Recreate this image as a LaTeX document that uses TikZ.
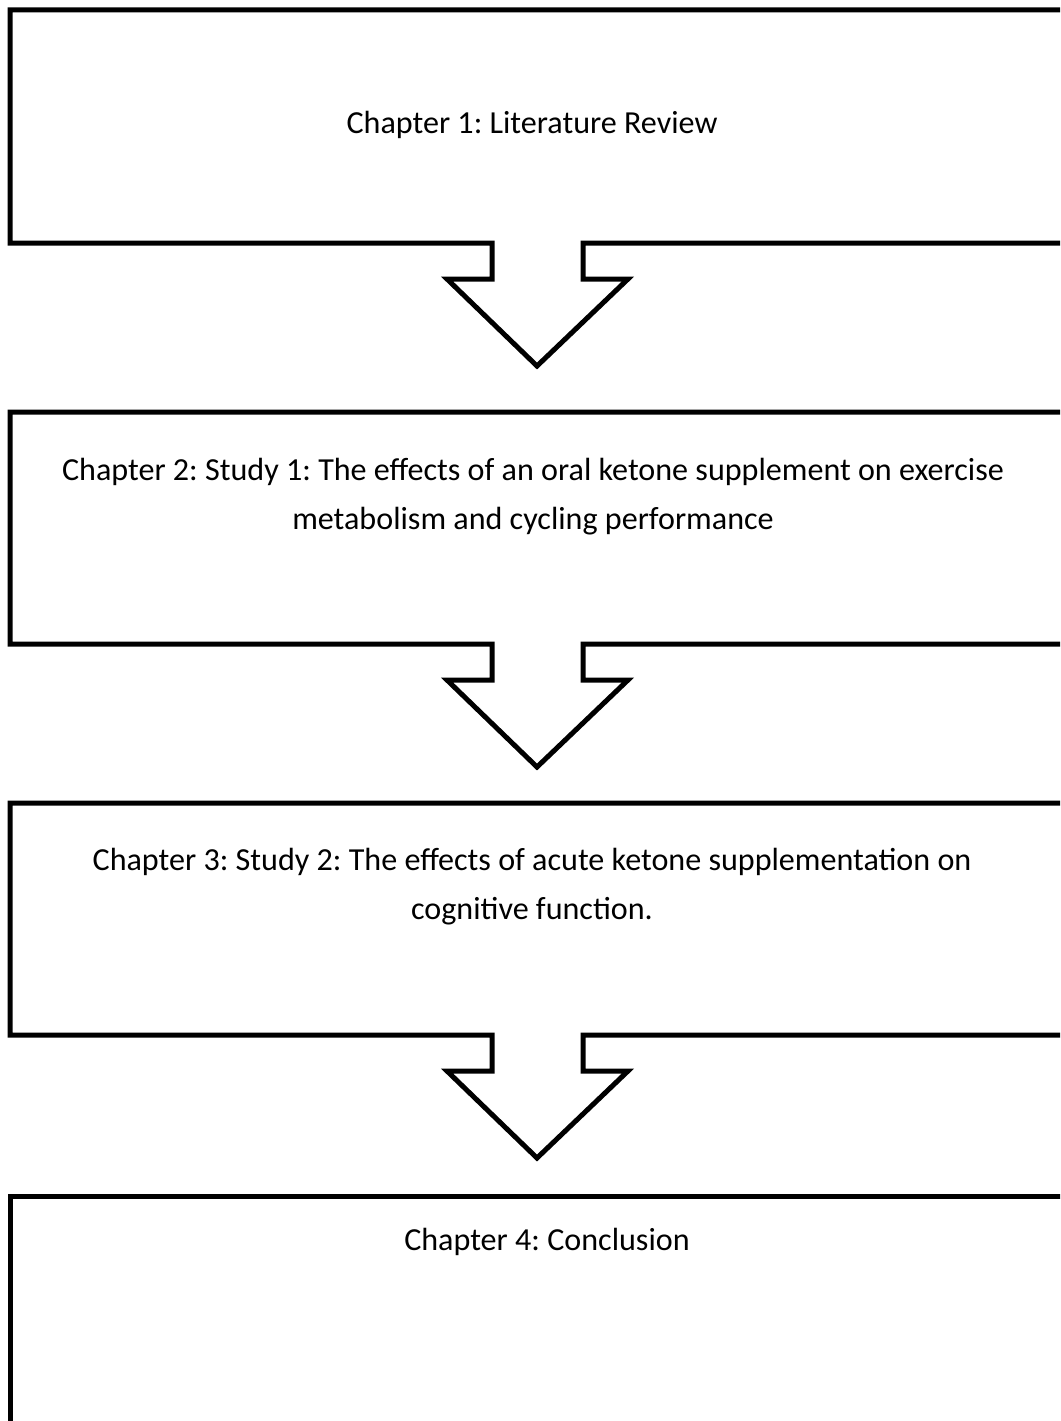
\documentclass[tikz,border=0pt]{standalone}
\usepackage{fontspec}
\setmainfont{Carlito}
\begin{document}
\frenchspacing
\begin{tikzpicture}[x=1pt,y=-1pt,
  outline/.style={line width=5pt, line join=miter, draw=black},
  label/.style={font=\fontsize{32.1}{49}\selectfont, align=center, inner sep=0pt}]
\useasboundingbox (0,0) rectangle (1060,1421);
\clip (0,0) rectangle (1060,1421);
% box 1 with arrow
\draw[outline] (1075,10) -- (10,10) -- (10,243) -- (492,243) -- (492,279) -- (447,279)
  -- (537,366) -- (628,279) -- (583,279) -- (583,243) -- (1075,243);
% box 2 with arrow
\draw[outline] (1075,412) -- (10,412) -- (10,644) -- (492,644) -- (492,680) -- (447,680)
  -- (537,767) -- (628,680) -- (583,680) -- (583,644) -- (1075,644);
% box 3 with arrow
\draw[outline] (1075,803) -- (10,803) -- (10,1035) -- (492,1035) -- (492,1071) -- (447,1071)
  -- (537,1158) -- (628,1071) -- (583,1071) -- (583,1035) -- (1075,1035);
% box 4
\draw[outline] (1075,1196) -- (10,1196) -- (10,1440);
\node[label] (c1) at (532,125) {Chapter 1: Literature Review};
\node[label] (c2) at (533,497) {Chapter 2: Study 1: The effects of an oral ketone supplement on exercise\\ metabolism and cycling performance};
\node[label] (c3) at (532,887) {Chapter 3: Study 2: The effects of acute ketone supplementation on\\ cognitive function.};
\node[label] (c4) at (547,1242) {Chapter 4: Conclusion};
\end{tikzpicture}
\end{document}
